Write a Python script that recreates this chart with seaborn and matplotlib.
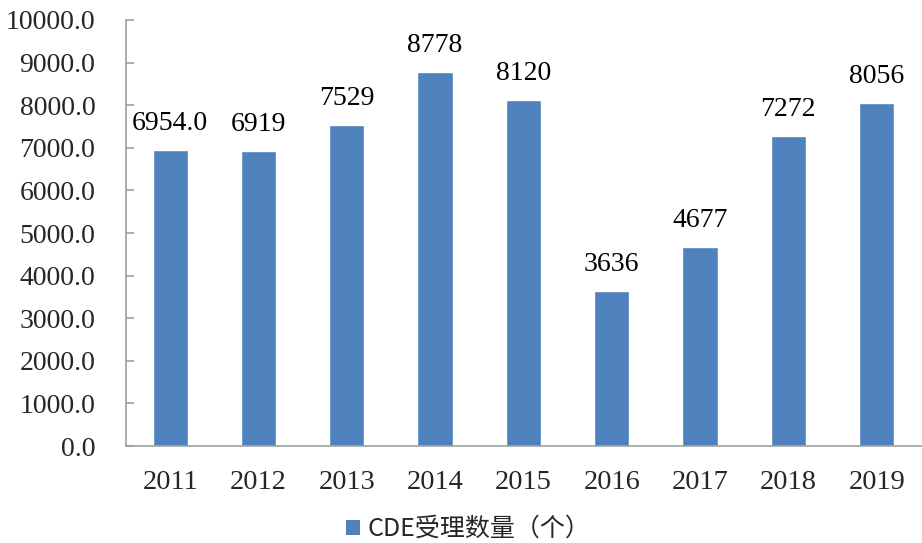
import matplotlib
matplotlib.use("Agg")
import matplotlib.pyplot as plt
import seaborn as sns
import pandas as pd
from matplotlib.patches import Patch

years = ["2011", "2012", "2013", "2014", "2015", "2016", "2017", "2018", "2019"]
counts = [6954.0, 6919, 7529, 8778, 8120, 3636, 4677, 7272, 8056]
value_labels = ["6954.0", "6919", "7529", "8778", "8120", "3636", "4677", "7272", "8056"]
series_name = "CDE受理数量（个）"

sns.set_theme(style="white")
plt.rcParams["font.family"] = ["Liberation Serif", "DejaVu Serif"]

df = pd.DataFrame({"year": years, "count": counts})

fig = plt.figure(figsize=(9.22, 5.43), dpi=100)
ax = fig.add_axes([0.1367, 0.1786, 0.862, 0.7846])

bar_color = "#4F81BD"
sns.barplot(data=df, x="year", y="count", color=bar_color, width=0.4,
            saturation=1, ax=ax)

for i, (v, lab) in enumerate(zip(counts, value_labels)):
    ax.annotate(lab, (i, v), xytext=(0, 10), textcoords="offset points",
                ha="center", va="bottom", fontsize=20, color="black")

ax.set_ylim(0, 10000)
ax.set_xlim(-0.5, len(years) - 0.5)
ax.set_yticks(range(0, 10001, 1000))
ax.set_yticklabels([f"{t:.1f}" for t in range(0, 10001, 1000)], fontsize=20)
ax.set_xticks(range(len(years)))
ax.set_xticklabels(years, fontsize=20.5)
ax.set_xlabel("")
ax.set_ylabel("")

# category boundary ticks on the x axis
ax.set_xticks([i + 0.5 for i in range(-1, len(years))], minor=True)
ax.tick_params(axis="x", which="major", length=0, pad=17)
ax.tick_params(axis="x", which="minor", direction="in", length=6, color="#A0A0A0", width=1.2)
ax.tick_params(axis="y", direction="in", length=6, color="#A0A0A0", width=1.2, pad=22, left=True)

for side in ["top", "right"]:
    ax.spines[side].set_visible(False)
for side in ["left", "bottom"]:
    ax.spines[side].set_color("#A0A0A0")
    ax.spines[side].set_linewidth(1.2)

handle = Patch(facecolor=bar_color, edgecolor="none")
leg = fig.legend([handle], [series_name], loc="center", bbox_to_anchor=(0.508, 0.026),
                 frameon=False, handlelength=0.55, handleheight=0.55, handletextpad=0.3,
                 prop={"family": ["Noto Sans CJK SC", "DejaVu Sans"], "size": 18})

fig.savefig("out.png", dpi=100)
